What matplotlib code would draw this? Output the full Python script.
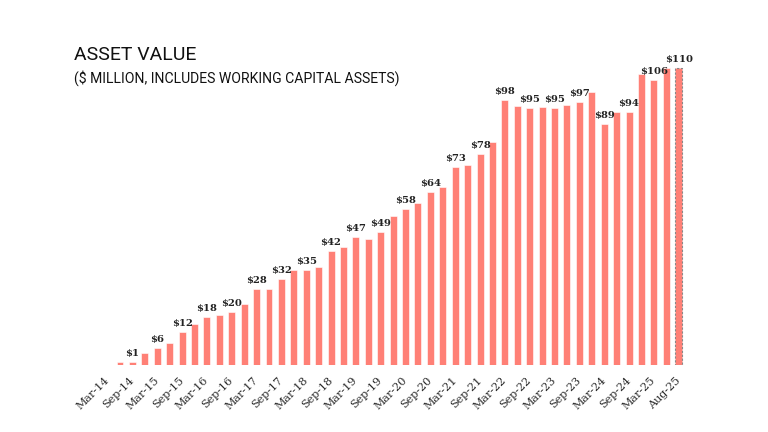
import matplotlib
matplotlib.use("Agg")
import matplotlib.pyplot as plt

periods = ["Mar-14", "Jun-14", "Sep-14", "Dec-14", "Mar-15", "Jun-15", "Sep-15", "Dec-15",
           "Mar-16", "Jun-16", "Sep-16", "Dec-16", "Mar-17", "Jun-17", "Sep-17", "Dec-17",
           "Mar-18", "Jun-18", "Sep-18", "Dec-18", "Mar-19", "Jun-19", "Sep-19", "Dec-19",
           "Mar-20", "Jun-20", "Sep-20", "Dec-20", "Mar-21", "Jun-21", "Sep-21", "Dec-21",
           "Mar-22", "Jun-22", "Sep-22", "Dec-22", "Mar-23", "Jun-23", "Sep-23", "Dec-23",
           "Mar-24", "Jun-24", "Sep-24", "Dec-24", "Mar-25", "Jun-25", "Aug-25"]
values = [0, 1.2, 1.2, 4.5, 6.2, 8, 12.2, 15, 17.9, 18.4,
          19.6, 22.6, 28.3, 28.3, 32, 35, 35, 36.2, 42.3, 43.7,
          47.3, 46.7, 49.3, 55.2, 57.8, 60, 64.2, 65.8, 73.3, 74.1,
          78, 82.5, 98.1, 95.9, 95.2, 95.7, 95.2, 96.4, 97.4, 101.2,
          89.4, 93.7, 93.7, 107.7, 105.6, 109.9, 110]
labels = {2: "$1", 4: "$6", 6: "$12", 8: "$18", 10: "$20", 12: "$28", 14: "$32",
          16: "$35", 18: "$42", 20: "$47", 22: "$49", 24: "$58", 26: "$64",
          28: "$73", 30: "$78", 32: "$98", 34: "$95", 36: "$95", 38: "$97",
          40: "$89", 42: "$94", 44: "$106", 46: "$110"}
tick_idx = list(range(0, 45, 2)) + [46]

bar_color = "#FF8076"

fig = plt.figure(figsize=(7.68, 4.32), dpi=100)
ax = fig.add_axes([0.132, 0.1551, 0.7598, 0.7188])

x = list(range(len(values)))
ax.bar(x[:-1], values[:-1], width=0.56, color=bar_color, edgecolor="white", linewidth=0.4)
ax.bar(x[-1], values[-1], width=0.56, color=bar_color, edgecolor="#888888",
       linewidth=0.8, linestyle=(0, (2, 1.5)))

for i, t in labels.items():
    ax.text(i, values[i] + 1.5, t, ha="center", va="bottom", fontsize=7.2,
            fontweight="bold", family="DejaVu Serif", color="#222222")

ax.set_xlim(-0.5, len(values) - 0.5)
ax.set_ylim(0, 115)
ax.set_xticks(tick_idx)
ax.set_xticklabels([periods[i] for i in tick_idx], rotation=45, ha="right",
                   va="center", rotation_mode="anchor", fontsize=8,
                   family="DejaVu Serif", color="#2a2a2a")
ax.tick_params(axis="x", length=0, pad=10)
ax.set_yticks([])
for s in ax.spines.values():
    s.set_visible(False)

fig.text(74 / 768, 1 - 55 / 432, "ASSET VALUE", fontsize=14, family="Roboto",
         color="#111111", va="center", ha="left")
fig.text(74 / 768, 1 - 78 / 432, "($ MILLION, INCLUDES WORKING CAPITAL ASSETS)",
         fontsize=10.1, family="Roboto", color="#111111", va="center", ha="left")

fig.savefig("out.png", dpi=100)
